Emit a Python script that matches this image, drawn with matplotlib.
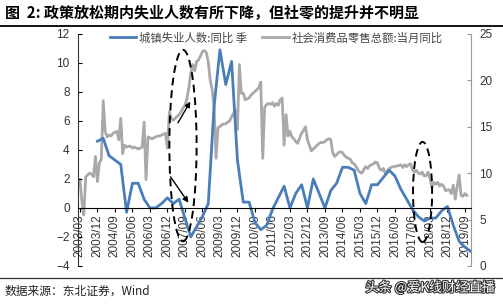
import matplotlib
matplotlib.use("Agg")
import matplotlib.pyplot as plt
import numpy as np
from matplotlib.patches import Ellipse
from matplotlib.lines import Line2D
import matplotlib.patheffects as pe

plt.rcParams['font.family'] = ['Liberation Sans', 'Noto Sans CJK SC', 'DejaVu Sans']
CJK = ['Noto Sans CJK SC', 'DejaVu Sans']

# monthly axis: 2003/03 ... 2019/12, ticks every 9 months
tick_labels = ["2003/03", "2003/12", "2004/09", "2005/06", "2006/03", "2006/12",
               "2007/09", "2008/06", "2009/03", "2009/12", "2010/09", "2011/06",
               "2012/03", "2012/12", "2013/09", "2014/06", "2015/03", "2015/12",
               "2016/09", "2017/06", "2018/03", "2018/12", "2019/09"]

# 城镇失业人数:同比 (quarterly, from 2003/12), left axis, %
unemp = [4.6, 4.8, 3.6, 3.3, 3.0, -0.3, 1.7, 1.7, 0.6, 0.0, 0.0, 0.3, 0.7,
         0.3, 0.6, -0.7, -2.0, -1.3, -0.6, 0.3, 7.0, 10.9, 8.5, 10.1, 3.3,
         0.4, 0.4, -1.0, -1.5, -1.2, -0.1, 0.7, 1.5, 0.0, 1.0, 1.6, 0.0,
         2.0, 1.0, 0.0, 1.2, 1.7, 2.8, 2.8, 2.6, 1.0, 0.3, 1.6, 1.6, 2.1,
         2.6, 2.2, 1.3, 0.6, -0.1, -0.6, -0.9, -0.7, -0.7, -0.2, 0.1, -1.2,
         -2.3, -2.7, -3.0]

# 社会消费品零售总额:当月同比 (monthly, from 2003/03), right axis, %
retail = [
    9.3, 7.0, 5.5, 9.6, 9.8, 10.0, 9.9, 9.6, 11.8, 9.1,
    11.1, 11.5, 17.8, 14.5, 13.9, 14.1, 14.0, 14.3, 14.4, 14.5, 13.6, 15.9,
    12.1, 13.0, 12.8, 12.9, 12.9, 12.7, 12.8, 12.7, 12.6, 12.7, 12.8, 15.5,
    9.3, 13.9, 13.8, 13.7, 13.8, 13.9, 14.0, 14.0, 14.1, 14.2, 14.3, 12.7,
    16.6, 15.9, 15.7, 15.9, 16.1, 16.3, 16.6, 17.0, 17.3, 18.0, 19.2, 20.8,
    21.7, 21.0, 22.0, 22.2, 22.6, 23.1, 23.2, 23.0, 22.0, 20.0, 19.0, 17.0,
    11.6, 14.9, 15.0, 15.2, 15.3, 15.3, 15.5, 15.6, 16.1, 16.4, 16.8, 14.7,
    21.7, 18.6, 18.6, 17.9, 18.0, 18.1, 18.4, 18.6, 18.8, 19.0, 19.2, 19.8,
    11.6, 17.1, 17.4, 17.5, 17.4, 17.6, 17.2, 17.5, 17.3, 17.9, 18.1, 13.0,
    16.3, 14.0, 14.5, 13.9, 13.7, 13.4, 13.2, 13.8, 14.3, 14.6, 15.0, 13.6,
    13.0, 12.4, 12.6, 12.8, 13.0, 13.2, 13.3, 13.3, 13.4, 13.6, 13.7, 13.6,
    12.2, 11.8, 12.0, 12.2, 12.3, 12.2, 11.9, 11.7, 11.6, 11.5, 11.1, 11.0,
    10.7, 10.3, 10.1, 10.0, 10.4, 10.7, 10.5, 10.8, 10.9, 11.0, 11.2, 11.1,
    10.5, 10.3, 10.5, 10.0, 10.2, 10.5, 10.6, 10.7, 10.7, 10.8, 10.8, 10.9,
    10.6, 10.9, 10.7, 10.9, 11.0, 10.4, 10.1, 10.3, 10.0, 9.9, 10.1, 9.7,
    9.7, 10.1, 9.4, 8.5, 9.0, 8.8, 9.0, 8.6, 8.8, 8.6, 8.1, 8.2,
    8.2, 7.8, 8.7, 7.2, 8.6, 9.8, 7.6, 7.5, 7.8, 7.6,
]

x_unemp = 9 + 3 * np.arange(len(unemp))
x_retail = np.arange(len(retail))

fig = plt.figure(figsize=(5.03, 3.05), dpi=100)
ax = fig.add_axes([0.155, 0.128, 0.781, 0.761])
ax2 = ax.twinx()
ax.set_zorder(ax2.get_zorder() + 1)
ax.patch.set_visible(False)

blue = '#4a7ebb'
grey = '#a9a9a9'
l2, = ax2.plot(x_retail, retail, color=grey, lw=2.0, solid_joinstyle='round')
l1, = ax.plot(x_unemp, unemp, color=blue, lw=2.0, solid_joinstyle='round')

ax.set_xlim(-1, 201)
ax.set_ylim(-4, 12)
ax2.set_ylim(0, 25)
ax.set_yticks(range(-4, 13, 2))
ax2.set_yticks(range(0, 26, 5))

ax.set_xticks(np.arange(0, 199, 9))
ax.set_xticklabels(tick_labels)
ax.tick_params(axis='x', direction='out', length=3, width=0.8, pad=1.5,
               labelrotation=90, labelsize=8.5, labelcolor='#333333')
ax.tick_params(axis='y', direction='in', length=3, labelsize=8.5, labelcolor='#333333', pad=6)
ax2.tick_params(axis='y', direction='in', length=3, labelsize=8.5, labelcolor='#333333', pad=6,
                color='#999999')

ax.spines['top'].set_visible(False)
ax.spines['right'].set_visible(False)
ax.spines['bottom'].set_position(('data', 0))
ax.spines['bottom'].set_color('black')
ax.spines['left'].set_color('#333333')
for s in ['top', 'left', 'bottom']:
    ax2.spines[s].set_visible(False)
ax2.spines['right'].set_color('#999999')

# annotations
ax.add_patch(Ellipse((53, 4.3), 14, 13.2, fill=False, ls=(0, (4, 2.5)), lw=1.4,
                     color='black', zorder=5))
ax.add_patch(Ellipse((176.2, 1.1), 9.8, 6.9, fill=False, ls=(0, (4, 2.5)), lw=1.4,
                     color='black', zorder=5))
ax.annotate('', xy=(57.5, 7.5), xytext=(49.7, 5.7),
            arrowprops=dict(arrowstyle='-|>', color='black', lw=1, mutation_scale=8), zorder=6)
ax.annotate('', xy=(56.6, 0.2), xytext=(45.8, 2.3),
            arrowprops=dict(arrowstyle='-|>', color='black', lw=1, mutation_scale=8), zorder=6)

leg = fig.legend([l1, l2], ['城镇失业人数:同比 季', '社会消费品零售总额:当月同比'],
                 loc='center left', bbox_to_anchor=(0.198, 0.876), ncol=2, frameon=False,
                 handlelength=2.3, handletextpad=0.3, columnspacing=1.3,
                 prop={'family': CJK, 'size': 8.2})
for t in leg.get_texts():
    t.set_color('#444444')

fig.text(0.01, 0.957, '图  2: 政策放松期内失业人数有所下降，但社零的提升并不明显',
         family=CJK, fontsize=10.8, fontweight='bold', va='center', ha='left')
fig.add_artist(Line2D([0, 1], [0.915, 0.915], transform=fig.transFigure, color='black', lw=1.3))
fig.add_artist(Line2D([0, 1], [0.088, 0.088], transform=fig.transFigure, color='#333333', lw=0.9))
fig.text(0.01, 0.044, '数据来源：东北证券，Wind', family=CJK, fontsize=8.5, va='center', ha='left',
         color='#222222')
fig.text(0.985, 0.058, '头条 @爱K线财经直播', family=CJK, fontsize=9.5, va='center', ha='right',
         color='white', path_effects=[pe.withStroke(linewidth=1.6, foreground='#333333')])

fig.savefig('out.png', dpi=100)
